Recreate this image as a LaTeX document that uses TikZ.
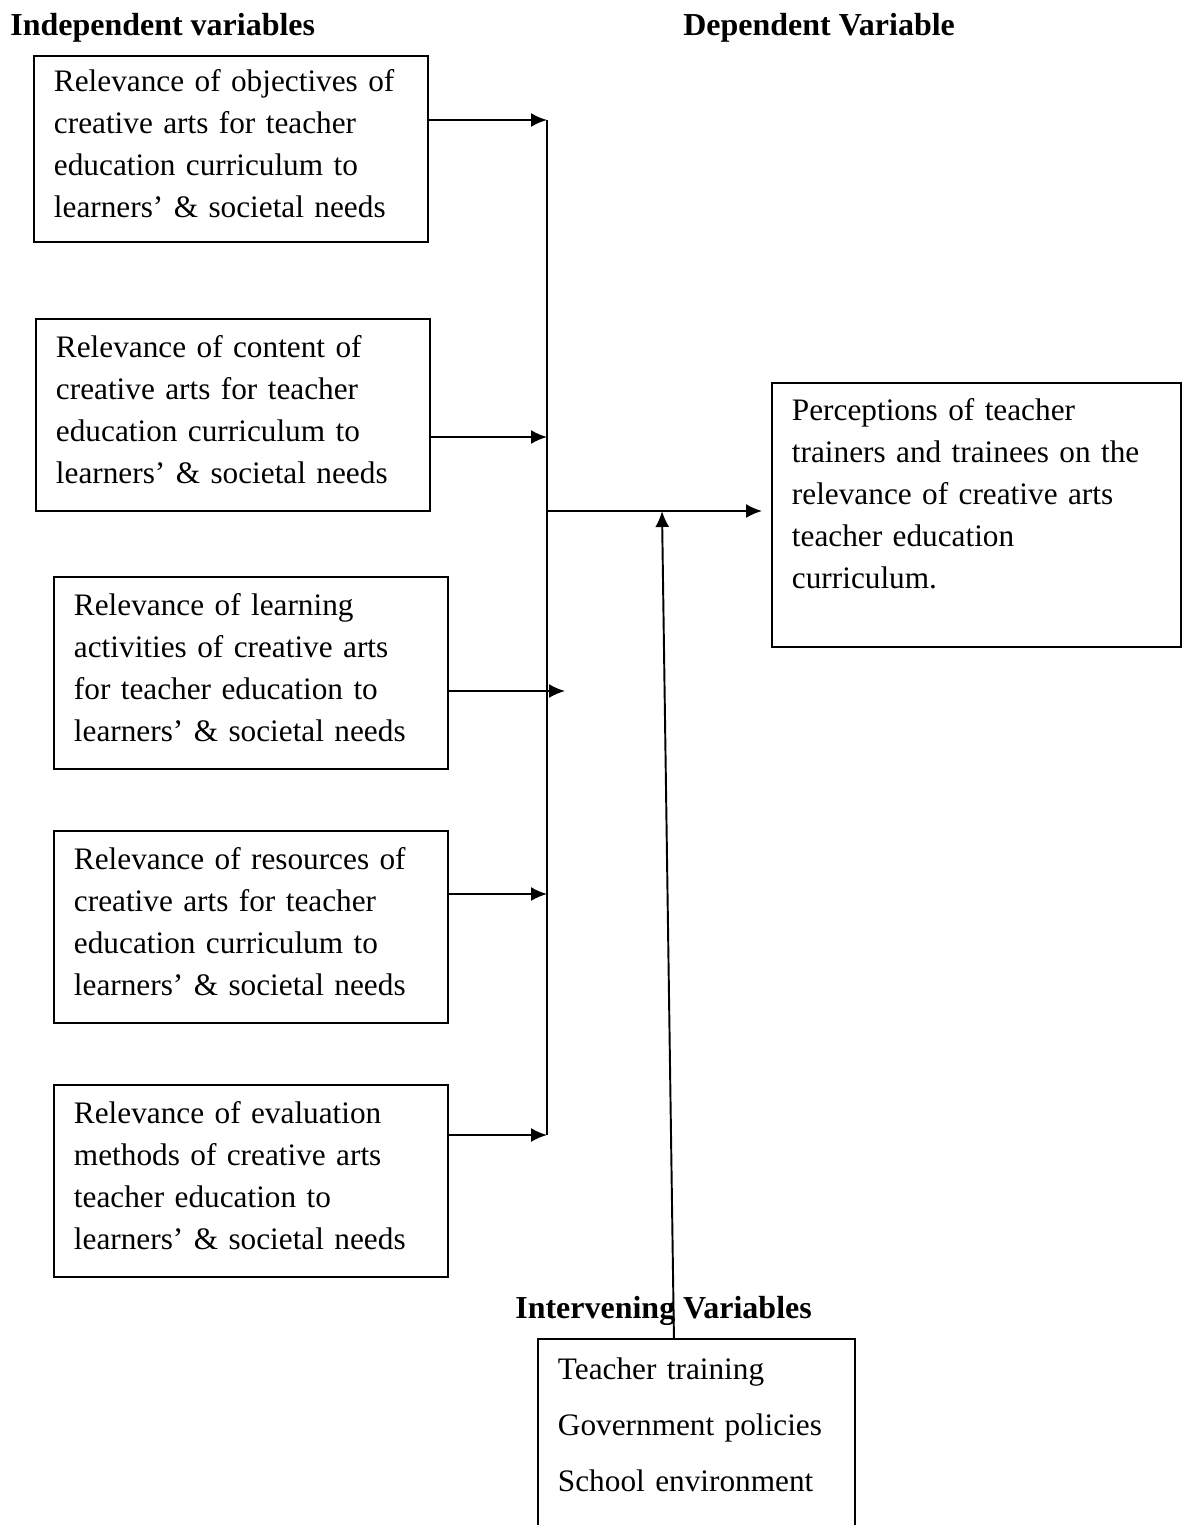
\documentclass[tikz,border=0pt]{standalone}
\usepackage{fontspec}
\setmainfont{Liberation Serif}
\usetikzlibrary{arrows.meta,positioning}

% empty last line, lifts the text a little in its box
\newcommand{\boxtail}{\\[-18pt]\mbox{}}

\tikzset{
	varbox/.style={draw, black, line width=1.1pt, anchor=north west, align=left,
		inner xsep=0.4cm, inner ysep=0pt, font=\fontsize{17.8}{23.9}\selectfont},
	heading/.style={anchor=west, inner sep=0pt, font=\fontsize{18.2}{22}\selectfont\bfseries},
	arr/.style={line width=1.1pt, -{Latex[length=0.32cm,width=0.28cm]}},
}

\begin{document}
\begin{tikzpicture}[x=0.02cm, y=-0.02cm]

	\clip (0,0) rectangle (1182,1525);

	% headings
	\node [name=indep, heading] at (10,28) {Independent variables};
	\node [name=dep, heading] at (683,28) {Dependent Variable};
	\node [name=interv, heading] at (515,1311) {Intervening Variables};

	% independent variables
	\node [name=obj, varbox, text width=7.08cm, minimum height=3.72cm] at (33,55)
		{Relevance of objectives of\\creative arts for teacher\\education curriculum to\\learners’ \& societal needs\boxtail};
	\node [name=cont, varbox, text width=7.08cm, minimum height=3.84cm] at (35,318)
		{Relevance of content of\\creative arts for teacher\\education curriculum to\\learners’ \& societal needs\boxtail};
	\node [name=act, varbox, text width=7.08cm, minimum height=3.84cm] at (53,576)
		{Relevance of learning\\activities of creative arts\\for teacher education to\\learners’ \& societal needs\boxtail};
	\node [name=res, varbox, text width=7.08cm, minimum height=3.84cm] at (53,830)
		{Relevance of resources of\\creative arts for teacher\\education curriculum to\\learners’ \& societal needs\boxtail};
	\node [name=eval, varbox, text width=7.08cm, minimum height=3.84cm] at (53,1084)
		{Relevance of evaluation\\methods of creative arts\\teacher education to\\learners’ \& societal needs\boxtail};

	% dependent variable
	\node [name=perc, varbox, text width=7.38cm, minimum height=5.28cm] at (771,382)
		{Perceptions of teacher\\trainers and trainees on the\\relevance of creative arts\\teacher education\\curriculum.\\\mbox{}};

	% intervening variables
	\node [name=intbox, varbox, text width=5.54cm, minimum height=4.56cm,
		font=\fontsize{17.8}{31.9}\selectfont] at (537,1338)
		{Teacher training\\Government policies\\School environment\\\mbox{}};

	% collecting line
	\coordinate (bustop) at (547,120);
	\coordinate (busbot) at (547,1135);
	\coordinate (j2) at (547,437);
	\coordinate (j3) at (565,691);
	\coordinate (j4) at (547,894);
	\coordinate (mid) at (547,511);
	\coordinate (meet) at (662,511);

	\draw [line width=1.1pt] (bustop) -- (busbot);

	\draw [arr] (obj.east |- bustop) -- (bustop);
	\draw [arr] (cont.east |- j2) -- (j2);
	\draw [arr] (act.east |- j3) -- (j3);
	\draw [arr] (res.east |- j4) -- (j4);
	\draw [arr] (eval.east |- busbot) -- (busbot);

	\draw [arr, shorten >=0.18cm] (mid) -- (perc.west |- mid);
	\draw [arr] ([xshift=-0.45cm]intbox.north) -- (meet);

\end{tikzpicture}
\end{document}
